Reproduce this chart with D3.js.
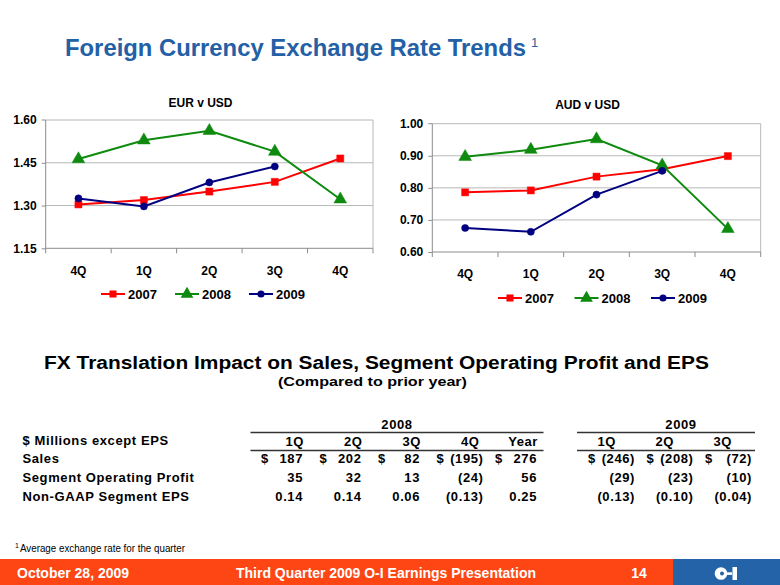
<!DOCTYPE html>
<html><head><meta charset="utf-8">
<script src="https://cdn.jsdelivr.net/npm/d3@7"></script>
<style>
body{margin:0;background:#fff}
svg{display:block}
text{font-family:"Liberation Sans",Arial,Helvetica,sans-serif}
</style>
</head><body>
<svg id="c" width="780" height="585"></svg>
<script>
// ---------- data ----------
const quarters = ["4Q","1Q","2Q","3Q","4Q"];
const years = ["2007","2008","2009"];
const eur2007 = [1.304,1.319,1.349,1.383,1.465];
const eur2008 = [1.463,1.529,1.562,1.489,1.322];
const eur2009 = [1.325,1.297,1.381,1.437];
const aud2007 = [0.786,0.792,0.835,0.858,0.899];
const aud2008 = [0.897,0.919,0.952,0.870,0.672];
const aud2009 = [0.675,0.663,0.779,0.853];
const eurTicks = [1.15,1.30,1.45,1.60];
const audTicks = [0.60,0.70,0.80,0.90,1.00];

const groupLabels = ["2008","2009"];
const cols2008 = ["1Q","2Q","3Q","4Q","Year"];
const cols2009 = ["1Q","2Q","3Q"];
const rowLabels = ["Sales","Segment Operating Profit","Non-GAAP Segment EPS"];
const sales2008 = [187,202,82,-195,276];
const sales2009 = [-246,-208,-72];
const sop2008 = [35,32,13,-24,56];
const sop2009 = [-29,-23,-10];
const eps2008 = [0.14,0.14,0.06,-0.13,0.25];
const eps2009 = [-0.13,-0.10,-0.04];

// ---------- styles ----------
const colors = ["#ff0000","#0e8a0e","#000080"];
const markers = [d3.symbolSquare, d3.symbolTriangle, d3.symbolCircle];
const markerSize = [50, 70, 40];
const FONT = '"Liberation Sans",Arial,Helvetica,sans-serif';

const svg = d3.select("#c");

// ---------- title ----------
svg.append("text").attr("x",65).attr("y",56)
  .attr("font-size",24).attr("font-weight","bold").attr("fill","#2360a5")
  .attr("textLength",461).attr("lengthAdjust","spacingAndGlyphs")
  .text("Foreign Currency Exchange Rate Trends");
svg.append("text").attr("x",531).attr("y",47)
  .attr("font-size",13).attr("fill","#2360a5").text("1");

// ---------- charts ----------
function drawChart(o){
  const g = svg.append("g");
  const x = d3.scaleBand().domain(d3.range(quarters.length)).range([o.x0,o.x1]);
  const y = d3.scaleLinear().domain(o.domain).range([o.y1,o.y0]);
  const cx = i => x(i) + x.bandwidth()/2;

  g.append("text").attr("x",o.titleX).attr("y",o.titleY).attr("text-anchor","middle")
    .attr("font-size",12).attr("font-weight","bold").attr("fill","#000").text(o.title);

  g.selectAll(".grid").data(o.ticks.slice(1)).join("line")
    .attr("x1",o.x0).attr("x2",o.x1).attr("y1",d=>y(d)).attr("y2",d=>y(d))
    .attr("stroke","#b8b8b8").attr("stroke-width",1);
  g.append("line").attr("x1",o.x1).attr("x2",o.x1).attr("y1",y(o.domain[1])).attr("y2",y(o.domain[0]))
    .attr("stroke","#b8b8b8");

  const ya = d3.axisLeft(y).tickValues(o.ticks).tickFormat(d3.format(".2f")).tickSize(4).tickPadding(5);
  const yg = g.append("g").attr("transform",`translate(${o.x0},0)`).call(ya);
  yg.select(".domain").attr("stroke","#8c8c8c").attr("d",`M-4,${y(o.domain[1])}H0V${y(o.domain[0])}`);
  yg.selectAll(".tick line").attr("stroke","#8c8c8c");
  yg.selectAll(".tick text").attr("font-family",FONT).attr("font-size",12).attr("font-weight","bold").attr("fill","#000");
  yg.selectAll(".tick").filter(d=>d===o.domain[1]).select("line").remove();

  g.append("line").attr("x1",o.x0).attr("x2",o.x1).attr("y1",o.y1).attr("y2",o.y1).attr("stroke","#8c8c8c");
  g.selectAll(".xt").data(d3.range(quarters.length+1)).join("line")
    .attr("x1",i=>o.x0+i*x.step()).attr("x2",i=>o.x0+i*x.step())
    .attr("y1",o.y1).attr("y2",o.y1+5).attr("stroke","#8c8c8c");
  g.selectAll(".xl").data(quarters).join("text")
    .attr("x",(d,i)=>cx(i)).attr("y",o.labelY).attr("text-anchor","middle")
    .attr("font-size",12).attr("font-weight","bold").text(d=>d);

  const line = d3.line().x((d,i)=>cx(i)).y(d=>y(d));
  o.series.forEach((s,k)=>{
    g.append("path").attr("d",line(s)).attr("fill","none")
      .attr("stroke",colors[k]).attr("stroke-width",2);
    g.selectAll(null).data(s).join("path")
      .attr("transform",(d,i)=>`translate(${cx(i)},${y(d)})`)
      .attr("d",d3.symbol().type(markers[k]).size(markerSize[k]))
      .attr("fill",colors[k]).attr("stroke",colors[k]).attr("stroke-width",0.5);
  });

  years.forEach((yr,k)=>{
    const lx = o.legX + k*o.legStep;
    g.append("line").attr("x1",lx).attr("x2",lx+24).attr("y1",o.legY).attr("y2",o.legY)
      .attr("stroke",colors[k]).attr("stroke-width",2);
    g.append("path").attr("transform",`translate(${lx+12},${o.legY})`)
      .attr("d",d3.symbol().type(markers[k]).size(markerSize[k])).attr("fill",colors[k]);
    g.append("text").attr("x",lx+27).attr("y",o.legY+4.5)
      .attr("font-size",13).attr("font-weight","bold").text(yr);
  });
}

drawChart({x0:45.7,x1:373,y0:120,y1:248.3,domain:[1.15,1.60],ticks:eurTicks,
  series:[eur2007,eur2008,eur2009],title:"EUR v USD",titleX:200.5,titleY:106.5,
  labelY:275,legX:101,legStep:74,legY:294});
drawChart({x0:432.3,x1:760.7,y0:123.7,y1:252,domain:[0.60,1.00],ticks:audTicks,
  series:[aud2007,aud2008,aud2009],title:"AUD v USD",titleX:587.5,titleY:109,
  labelY:278,legX:498,legStep:76.5,legY:298});

// ---------- table ----------
svg.append("text").attr("x",44).attr("y",369).attr("font-size",18).attr("font-weight","bold")
  .attr("textLength",665).attr("lengthAdjust","spacingAndGlyphs")
  .text("FX Translation Impact on Sales, Segment Operating Profit and EPS");
svg.append("text").attr("x",278).attr("y",386).attr("font-size",13).attr("font-weight","bold")
  .attr("textLength",189).attr("lengthAdjust","spacingAndGlyphs")
  .text("(Compared to prior year)");

const e08 = d3.scaleLinear().domain([0,1]).range([308,366.5]);
const e09 = d3.scaleLinear().domain([0,1]).range([635,693.5]);
const h09 = d3.scaleLinear().domain([0,1]).range([616,674]);
const groups = [
  {label:groupLabels[0], cols:cols2008, edge:e08, head:i=>e08(i)-4, span:[250.5,543.5], mid:397,
   rows:[sales2008,sop2008,eps2008]},
  {label:groupLabels[1], cols:cols2009, edge:e09, head:i=>h09(i), span:[577,755], mid:681,
   rows:[sales2009,sop2009,eps2009]}
];
const rowY = [462.5,481.5,500.5];
const T = svg.append("g").attr("font-size",13).attr("font-weight","bold").attr("letter-spacing",0.6);

T.append("text").attr("x",22.5).attr("y",445).text("$ Millions except EPS");
rowLabels.forEach((r,i)=>T.append("text").attr("x",22.5).attr("y",rowY[i]).text(r));

function fmt(v, dec){
  const s = d3.format(dec ? ".2f" : "d")(Math.abs(v));
  return v < 0 ? `(${s})` : s;
}
groups.forEach(gr=>{
  T.append("text").attr("x",gr.mid).attr("y",428.5).attr("text-anchor","middle").text(gr.label);
  [432.5,450.5].forEach(yy=>T.append("line").attr("x1",gr.span[0]).attr("x2",gr.span[1])
    .attr("y1",yy).attr("y2",yy).attr("stroke","#333").attr("stroke-width",1.6));
  gr.cols.forEach((c,i)=>T.append("text").attr("x",gr.head(i)).attr("y",445.5)
    .attr("text-anchor","end").text(c));
  gr.rows.forEach((vals,r)=>{
    vals.forEach((v,i)=>{
      T.append("text").attr("x",gr.edge(i) - (v<0?0:5)).attr("y",rowY[r])
        .attr("text-anchor","end").text(fmt(v, r===2));
      if(r===0) T.append("text").attr("x",gr.edge(i)-47).attr("y",rowY[r]).text("$");
    });
  });
});

// ---------- footnote ----------
svg.append("text").attr("x",15).attr("y",548).attr("font-size",7).text("1");
svg.append("text").attr("x",20).attr("y",552).attr("font-size",10)
  .attr("textLength",165).attr("lengthAdjust","spacingAndGlyphs")
  .text("Average exchange rate for the quarter");

// ---------- footer ----------
svg.append("rect").attr("x",0).attr("y",559).attr("width",673).attr("height",26).attr("fill","#fd4614");
svg.append("rect").attr("x",673).attr("y",559).attr("width",107).attr("height",26).attr("fill","#2563a9");
const F = svg.append("g").attr("fill","#fff").attr("font-size",14).attr("font-weight","bold");
F.append("text").attr("x",17).attr("y",578).text("October 28, 2009");
F.append("text").attr("x",236).attr("y",578).attr("textLength",300).attr("lengthAdjust","spacingAndGlyphs")
  .text("Third Quarter 2009 O-I Earnings Presentation");
F.append("text").attr("x",639).attr("y",578).attr("text-anchor","middle").text("14");
const L = svg.append("g");
L.append("circle").attr("cx",721).attr("cy",573.5).attr("r",6.3).attr("fill","#fff");
L.append("circle").attr("cx",722).attr("cy",573.5).attr("r",2).attr("fill","#2563a9");
L.append("rect").attr("x",726).attr("y",572.3).attr("width",6).attr("height",2.6).attr("fill","#fff");
L.append("rect").attr("x",732.5).attr("y",567).attr("width",4.5).attr("height",13).attr("fill","#fff");
</script>
</body></html>
